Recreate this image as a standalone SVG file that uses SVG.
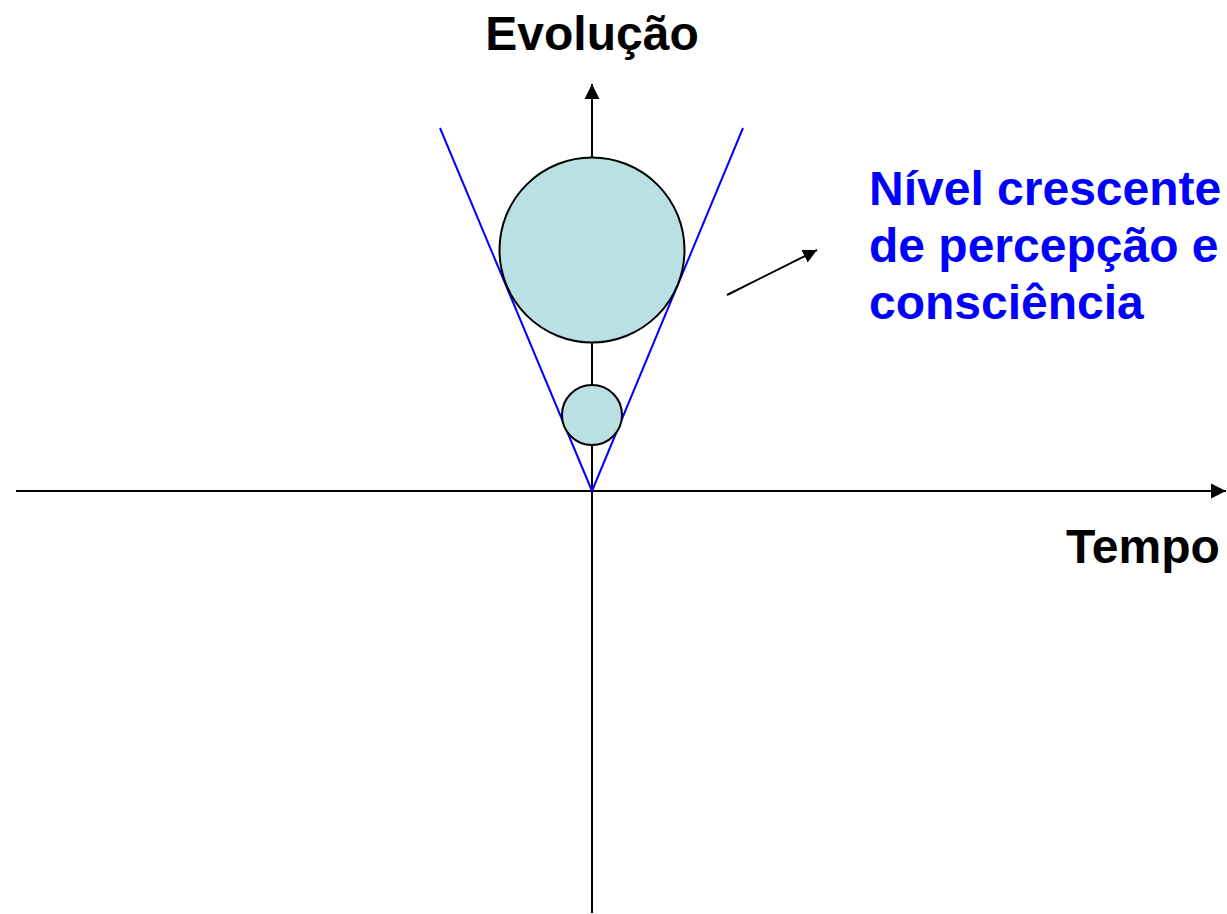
<svg xmlns="http://www.w3.org/2000/svg" width="1227" height="914" viewBox="0 0 1227 914">
<style>
.axis{stroke:#000;stroke-width:2;fill:none}
.cone{stroke:#0000ff;stroke-width:2;fill:none}
.circ{fill:#bae0e3;stroke:#000;stroke-width:2}
.lbl{font-family:"Liberation Sans",Arial,sans-serif;font-weight:bold;font-size:48px}
</style>
<defs>
<marker id="ah" markerWidth="16" markerHeight="16" refX="15" refY="8" orient="auto" markerUnits="userSpaceOnUse">
<path d="M0,0.5 L15,8 L0,15.5 Z" fill="#000"/>
</marker>
<marker id="ahs" markerWidth="14" markerHeight="14" refX="14" refY="7" orient="auto" markerUnits="userSpaceOnUse">
<path d="M0,0 L14,7 L0,14 Z" fill="#000"/>
</marker>
</defs>
<g id="connectors">
<line class="axis" x1="592" y1="913" x2="592" y2="84" marker-end="url(#ah)"/>
<line class="axis" x1="16" y1="491" x2="1226" y2="491" marker-end="url(#ah)"/>
<line class="cone" x1="592" y1="491" x2="440" y2="128"/>
<line class="cone" x1="592" y1="491" x2="743" y2="128"/>
<line class="axis" x1="727" y1="295" x2="817" y2="250" stroke-width="1.5" marker-end="url(#ahs)"/>
</g>
<g id="big-circle"><circle class="circ" cx="592" cy="250" r="92.5"/></g>
<g id="small-circle"><circle class="circ" cx="592" cy="415" r="30"/></g>
<g id="label-evolucao"><text class="lbl" x="592" y="50" text-anchor="middle" fill="#000">Evolução</text></g>
<g id="label-tempo"><text class="lbl" x="1066" y="563" fill="#000">Tempo</text></g>
<g id="label-nivel">
<text class="lbl" fill="#0000ff"><tspan x="869" y="205">Nível crescente</tspan><tspan x="869" y="262">de percepção e</tspan><tspan x="869" y="319">consciência</tspan></text>
</g>
</svg>
